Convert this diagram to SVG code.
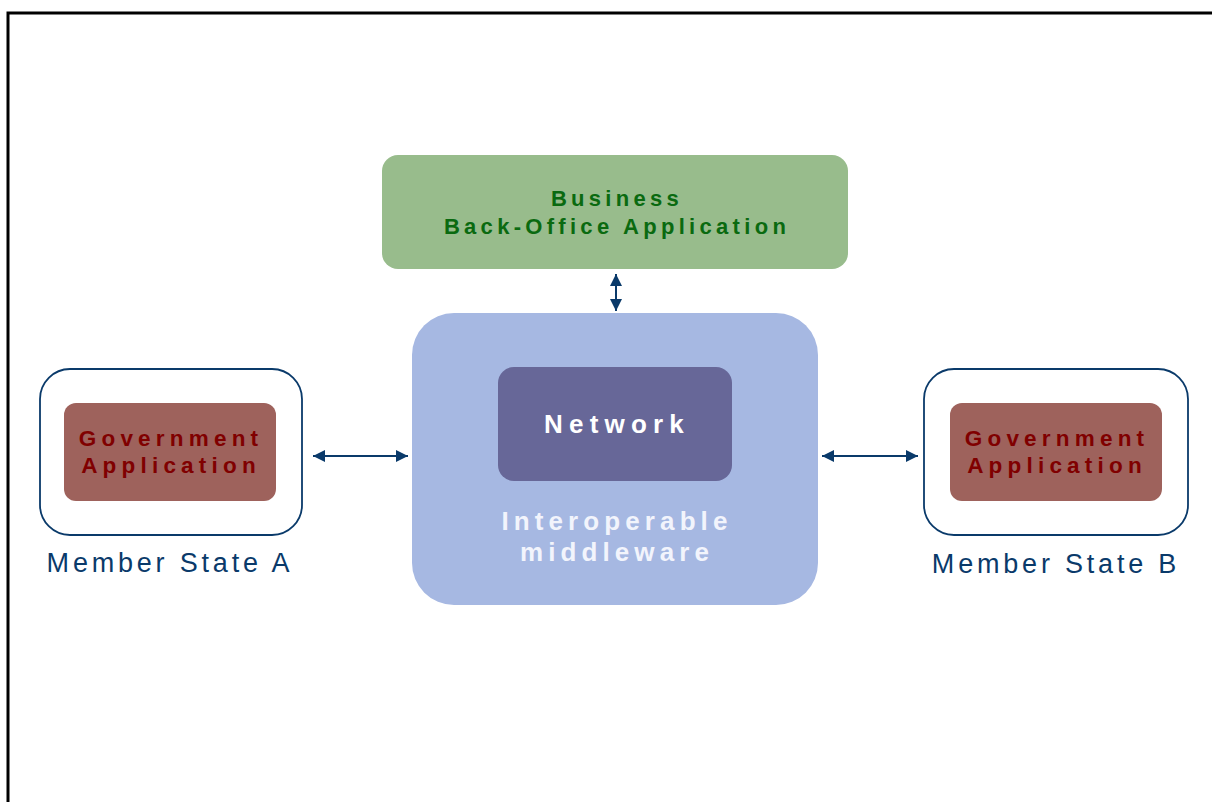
<svg xmlns="http://www.w3.org/2000/svg" width="1212" height="802" viewBox="0 0 1212 802">
  <style>
    .frame { fill: none; stroke: #000; stroke-width: 3; }
    .bold { font-family: "Liberation Sans", Arial, sans-serif; font-weight: bold; text-anchor: middle; }
    .biz { fill: #98bc8c; }
    .biz-t { fill: #0a6a10; font-size: 22px; letter-spacing: 4.3px; }
    .mw { fill: #a6b8e2; }
    .mw-t { fill: #f2f4fc; font-size: 26px; letter-spacing: 5.1px; }
    .net { fill: #676798; }
    .net-t { fill: #ffffff; font-size: 26px; letter-spacing: 6.2px; }
    .ms { fill: #fff; stroke: #0a3a6a; stroke-width: 1.8; }
    .gov { fill: #9e625c; }
    .gov-t { fill: #800000; font-size: 22.5px; letter-spacing: 5.2px; }
    .ms-t { font-family: "Liberation Sans", Arial, sans-serif; fill: #0a3a6a; font-size: 27px; letter-spacing: 3.8px; text-anchor: middle; }
    .link { stroke: #0a3a6a; stroke-width: 2; fill: none; marker-start: url(#head); marker-end: url(#head); }
  </style>
  <defs>
    <marker id="head" viewBox="0 0 10 10" refX="10" refY="5" markerWidth="6.5" markerHeight="6" orient="auto-start-reverse" markerUnits="strokeWidth">
      <path d="M0,0 L10,5 L0,10 Z" fill="#0a3a6a"/>
    </marker>
  </defs>

  <!-- page frame: top and left edges -->
  <path class="frame" d="M8,802 L8,13 L1212,13"/>

  <g id="business">
    <rect class="biz" x="382" y="155" width="466" height="114" rx="16" ry="16"/>
    <text class="bold biz-t" x="617" y="206">Business</text>
    <text class="bold biz-t" x="617" y="234">Back-Office Application</text>
  </g>

  <g id="middleware">
    <rect class="mw" x="412" y="313" width="406" height="292" rx="42" ry="42"/>
    <text class="bold mw-t" x="617" y="530">Interoperable</text>
    <text class="bold mw-t" x="617" y="561">middleware</text>
  </g>

  <g id="network">
    <rect class="net" x="498" y="367" width="234" height="114" rx="16" ry="16"/>
    <text class="bold net-t" x="617" y="433">Network</text>
  </g>

  <g id="member-a">
    <rect class="ms" x="40" y="369" width="262" height="166" rx="30" ry="30"/>
    <rect class="gov" x="64" y="403" width="212" height="98" rx="12" ry="12"/>
    <text class="bold gov-t" x="171" y="446">Government</text>
    <text class="bold gov-t" x="171" y="473">Application</text>
    <text class="ms-t" x="170" y="572">Member State A</text>
  </g>

  <g id="member-b">
    <rect class="ms" x="924" y="369" width="264" height="166" rx="30" ry="30"/>
    <rect class="gov" x="950" y="403" width="212" height="98" rx="12" ry="12"/>
    <text class="bold gov-t" x="1057" y="446">Government</text>
    <text class="bold gov-t" x="1057" y="473">Application</text>
    <text class="ms-t" x="1056" y="573">Member State B</text>
  </g>

  <g id="connectors">
    <line class="link" x1="616" y1="274" x2="616" y2="311"/>
    <line class="link" x1="313" y1="456" x2="408" y2="456"/>
    <line class="link" x1="822" y1="456" x2="918" y2="456"/>
  </g>
</svg>
